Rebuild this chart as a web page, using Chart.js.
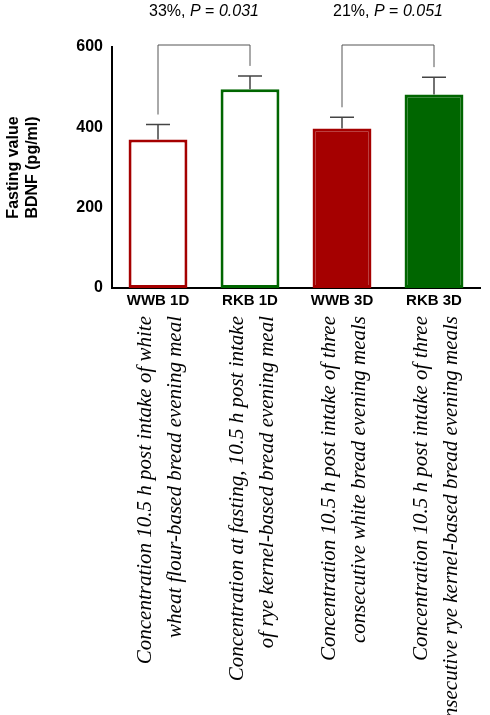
<!DOCTYPE html><html><head><script src="https://cdn.jsdelivr.net/npm/chart.js@4"></script>
<style>body{margin:0;background:#fff}#w{width:490px;height:715px}</style></head><body><div id="w"><canvas id="c"></canvas></div>
<script>
const categories=["WWB 1D","RKB 1D","WWB 3D","RKB 3D"];
const means=[370,495,397,482];
const errTop=[407,528,425,525];
const descriptions=[["Concentration 10.5 h post intake of white","wheat flour-based bread evening meal"],["Concentration at fasting, 10.5 h post intake","of rye kernel-based bread evening meal"],["Concentration 10.5 h post intake of three","consecutive white bread evening meals"],["Concentration 10.5 h post intake of three","consecutive rye kernel-based bread evening meals"]];
const comparisons=[{a:0,b:1,pct:"33%",p:"0.031"},{a:2,b:3,pct:"21%",p:"0.051"}];
const red="#a50000",green="#006600";
const extra={id:"extra",afterDatasetsDraw(ch){
 const c=ch.ctx,x=ch.scales.x,y=ch.scales.y;
 c.save();c.strokeStyle="#444";c.lineWidth=1.5;
 means.forEach((m,i)=>{const px=x.getPixelForValue(i);c.beginPath();c.moveTo(px,y.getPixelForValue(m));c.lineTo(px,y.getPixelForValue(errTop[i]));c.moveTo(px-12,y.getPixelForValue(errTop[i]));c.lineTo(px+12,y.getPixelForValue(errTop[i]));c.stroke();});
 c.strokeStyle="#555";c.lineWidth=1;
 comparisons.forEach(k=>{const xa=x.getPixelForValue(k.a),xb=x.getPixelForValue(k.b);const top=45;
  c.beginPath();c.moveTo(xa,y.getPixelForValue(errTop[k.a])-10);c.lineTo(xa,top);c.lineTo(xb,top);c.lineTo(xb,y.getPixelForValue(errTop[k.b])-10);c.stroke();
  const s1=k.pct+", ",s2="P",s3=" = ",s4=k.p;c.fillStyle="#000";c.textBaseline="middle";
  const f="16px Arial",fi="italic 16px Arial";c.font=f;let w=c.measureText(s1+s3).width;c.font=fi;w+=c.measureText(s2+s4).width;
  let cx=(xa+xb)/2-w/2;const ty=12;
  [[s1,f],[s2,fi],[s3,f],[s4,fi]].forEach(([s,ff])=>{c.font=ff;c.textAlign="left";c.fillText(s,cx,ty);cx+=c.measureText(s).width;});
 });
 c.fillStyle="#000";c.font="italic 21px 'Liberation Serif'";c.textAlign="right";c.textBaseline="middle";
 descriptions.forEach((d,i)=>{const px=x.getPixelForValue(i);d.forEach((t,j)=>{c.save();c.translate(px-13+j*30,316);c.rotate(-Math.PI/2);c.fillText(t,0,0);c.restore();});});
 c.restore();}};
new Chart(document.getElementById("c"),{type:"bar",plugins:[extra],
data:{labels:categories,datasets:[{data:means,backgroundColor:["#fff","#fff",red,green],borderColor:[red,green,red,green],borderWidth:3,borderSkipped:false,barPercentage:0.64,categoryPercentage:1}]},
options:{responsive:true,maintainAspectRatio:false,animation:false,layout:{padding:{top:47,right:10,left:0}},
plugins:{legend:{display:false},tooltip:{enabled:false}},
scales:{x:{grid:{display:false,drawTicks:false},border:{color:"#000",width:2},ticks:{color:"#000",padding:4,font:{family:"Arial",size:15,weight:"bold"}},afterFit:s=>{s.height=427;}},
y:{min:0,max:600,afterFit:s=>{s.width=112;},ticks:{stepSize:200,color:"#000",font:{family:"Arial",size:16,weight:"bold"}},grid:{display:false,drawTicks:true,tickLength:6,tickColor:"#000",tickWidth:2},border:{color:"#000",width:2},
title:{display:true,text:["Fasting value","BDNF (pg/ml)"],color:"#000",font:{family:"Arial",size:16,weight:"bold"}}}}}});
</script></body></html>
